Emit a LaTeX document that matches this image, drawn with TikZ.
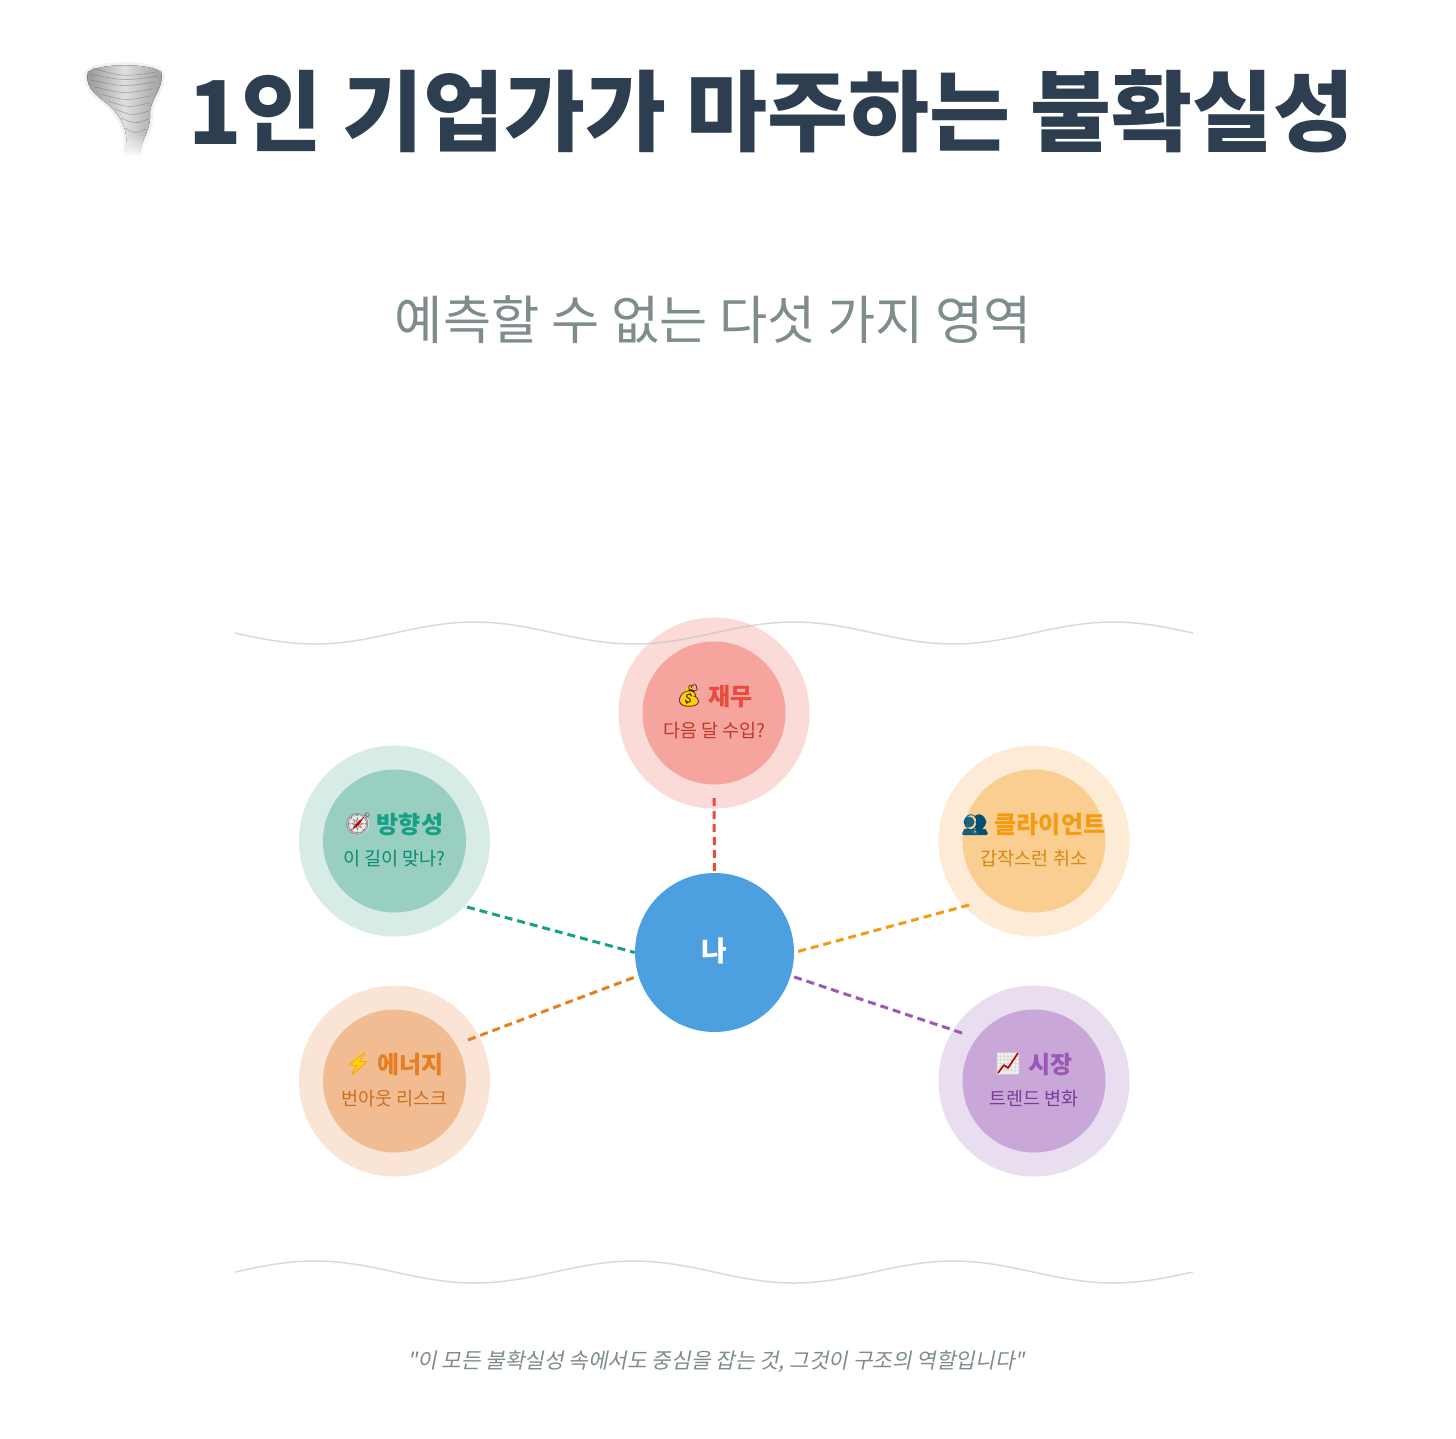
\documentclass[tikz,border=0pt]{standalone}
\usepackage{fontspec}
\usetikzlibrary{calc,fadings}
\setmainfont{Noto Sans CJK KR}
\newfontfamily\slantfont[FakeSlant=0.2]{Noto Sans CJK KR}
\newfontfamily\emojifont{Noto Emoji}
\definecolor{titlec}{HTML}{2C3E50}
\definecolor{subc}{HTML}{7F8C8D}
\definecolor{wavec}{HTML}{BDC3C7}
\definecolor{meC}{HTML}{4CA0E0}
\definecolor{rOut}{HTML}{FADBD8}\definecolor{rIn}{HTML}{F5A59D}\definecolor{rT}{HTML}{E74C3C}\definecolor{rS}{HTML}{C0392B}
\definecolor{tOut}{HTML}{D7ECE6}\definecolor{tIn}{HTML}{98CFC0}\definecolor{tT}{HTML}{16A085}\definecolor{tS}{HTML}{0E8A70}
\definecolor{oOut}{HTML}{FDEBD5}\definecolor{oIn}{HTML}{FACE91}\definecolor{oT}{HTML}{F39C12}\definecolor{oS}{HTML}{D68910}
\definecolor{dOut}{HTML}{FAE4D5}\definecolor{dIn}{HTML}{F2BC92}\definecolor{dT}{HTML}{E67E22}\definecolor{dS}{HTML}{CA6F1E}
\definecolor{pOut}{HTML}{E9DDF0}\definecolor{pIn}{HTML}{CAA7D9}\definecolor{pT}{HTML}{9B59B6}\definecolor{pS}{HTML}{7D3C98}
\tikzset{
  outercirc/.style={circle,minimum size=191pt,inner sep=0pt,draw=none},
  innercirc/.style={circle,minimum size=143pt,inner sep=0pt,draw=none},
  headtext/.style={inner sep=0pt,font=\fontsize{24}{24}\selectfont\bfseries},
  subtext/.style={inner sep=0pt,font=\fontsize{18.5}{18.5}\selectfont},
  emo/.style={inner sep=0pt,font=\fontsize{22}{22}\emojifont},
  link/.style={line width=3pt,dash pattern=on 8pt off 5pt},
  wave/.style={draw=wavec,line width=1.5pt,opacity=.6}
}
\begin{document}
\begin{tikzpicture}[x=1pt,y=-1pt]
\useasboundingbox (0,0) rectangle (1456,1439);
\fill[white] (0,0) rectangle (1456,1439);
% tornado
\def\twister{(88,72) .. controls (100,63) and (150,63) .. (161,72)
 .. controls (165,88) and (150,98) .. (150,114)
 .. controls (151,130) and (142,137) .. (140,154)
 -- (124,154) .. controls (130,135) and (124,122) .. (112,108)
 .. controls (100,97) and (84,90) .. (88,72) -- cycle}
\draw[gray!35,line width=6pt,opacity=.3] \twister;
\fill[left color=gray!85,right color=gray!80,middle color=gray!25] \twister;
\foreach \ya/\yb/\xa/\xb in {68/72/92/156,74/76/90/158,80/82/91/155,87/89/95/152,94/96/101/150,101/103/108/149,109/111/115/149,118/119/121/149,128/129/125/146}
  \draw[gray!70!black,line width=.6pt,opacity=.4] (\xa,\ya) .. controls ({(\xa+\xb)/2},{\yb+5}) .. (\xb,\yb);
\fill[white,path fading=north] (80,134) rectangle (170,158);
\node[inner sep=0pt,text=titlec,font=\fontsize{88}{88}\selectfont\bfseries] (title) at (771.5,111) {1인 기업가가 마주하는 불확실성};
\node[inner sep=0pt,text=subc,font=\fontsize{52.4}{52.4}\selectfont] (subtitle) at (713.5,320) {예측할 수 없는 다섯 가지 영역};
% circles
\node[outercirc,fill=rOut] (fin) at (714,713) {};
\node[innercirc,fill=rIn] (finI) at (fin) {};
\node[outercirc,fill=tOut] (dir) at (394.5,841) {};
\node[innercirc,fill=tIn] (dirI) at (dir) {};
\node[outercirc,fill=oOut] (cli) at (1034,841) {};
\node[innercirc,fill=oIn] (cliI) at (cli) {};
\node[outercirc,fill=dOut] (ene) at (394.5,1081) {};
\node[innercirc,fill=dIn] (eneI) at (ene) {};
\node[outercirc,fill=pOut] (mkt) at (1034,1081) {};
\node[innercirc,fill=pIn] (mktI) at (mkt) {};
\node[circle,minimum size=159pt,inner sep=0pt,fill=meC] (me) at (714.5,952.5) {};
\node[inner sep=0pt,text=white,font=\fontsize{28}{28}\selectfont\bfseries] (meT) at (714,950.5) {나};
% waves
\draw[wave] plot[domain=0:958,samples=240,smooth] ({235+\x},{633+11*sin(\x*1.1274)});
\draw[wave] plot[domain=0:958,samples=240,smooth] ({235+\x},{1272-11*sin(\x*1.1274)});
% connectors
\coordinate (finE) at ($(fin)+(0,85)$);
\coordinate (dirE) at ($(dir)+(72.5,66)$);
\coordinate (cliE) at ($(cli)+(-65,64)$);
\coordinate (eneE) at ($(ene)+(73.5,-41)$);
\coordinate (mktE) at ($(mkt)+(-72,-48)$);
\draw[link,draw=rT] (finE) -- (me.north);
\draw[link,draw=tT] (dirE) -- (me.180);
\draw[link,draw=oT] (cliE) -- (me.0);
\draw[link,draw=dT] (eneE) -- (me.197);
\draw[link,draw=pT] (mktE) -- (me.-17);
% icon backings
\fill[yellow!70!orange] (689,685) -- (694,693) .. controls (699,698) and (698,707) .. (689,707) .. controls (680,707) and (679,698) .. (684,693) -- cycle;
\fill[gray!30] (358,824) circle (11.5pt);
\fill[white!85!gray] (358,824) circle (8pt);
\fill[blue!30!cyan!45!black!90] (969,822) circle (5.5pt) (981,822) circle (5.5pt) (963,835) -- (964,829) -- (974,829) -- (975,835) -- cycle (975,835) -- (976,829) -- (986,829) -- (987,835) -- cycle;
\fill[yellow!75!orange] (361,1052) -- (349,1066) -- (356,1066) -- (352,1075) -- (367,1060) -- (359,1060) -- cycle;
\fill[white!88!gray] (997,1053) rectangle (1019,1074);
% labels
\node[emo,text=black!70!orange] (finEm) at (689,696) {💰};
\node[headtext,text=rT] (finH) at (730.5,696.5) {재무};
\node[subtext,text=rS] (finS) at (714.5,730.5) {다음 달 수입?};
\node[emo,text=gray!90!black] (dirEm) at (358,824) {🧭};
\fill[red!80!black] (352,830) -- (357,823) -- (364,817) -- (359,825) -- cycle;
\node[headtext,text=tT] (dirH) at (410,824) {방향성};
\node[subtext,text=tS] (dirS) at (394.5,858.5) {이 길이 맞나?};
\node[emo,text=blue!30!cyan!45!black] (cliEm) at (975,825) {👥};
\node[headtext,text=oT] (cliH) at (1050,824.5) {클라이언트};
\node[subtext,text=oS] (cliS) at (1034,858.5) {갑작스런 취소};
\node[emo,text=orange!80!yellow] (eneEm) at (358,1064) {⚡};
\node[headtext,text=dT] (eneH) at (410.5,1064.5) {에너지};
\node[subtext,text=dS] (eneS) at (394.5,1098.5) {번아웃 리스크};
\node[emo,text=gray!35] (mktEm) at (1008,1064) {📈};
\draw[red!70!black,line width=1.6pt,line join=round] (998,1073) -- (1004,1065) -- (1008,1068) -- (1018,1053);
\node[headtext,text=pT] (mktH) at (1050.5,1064.5) {시장};
\node[subtext,text=pS] (mktS) at (1034,1098.5) {트렌드 변화};
\node[inner sep=0pt,text=subc,font=\fontsize{21.3}{21.3}\slantfont] (quote) at (716,1362) {"이 모든 불확실성 속에서도 중심을 잡는 것, 그것이 구조의 역할입니다"};
\end{tikzpicture}
\end{document}
